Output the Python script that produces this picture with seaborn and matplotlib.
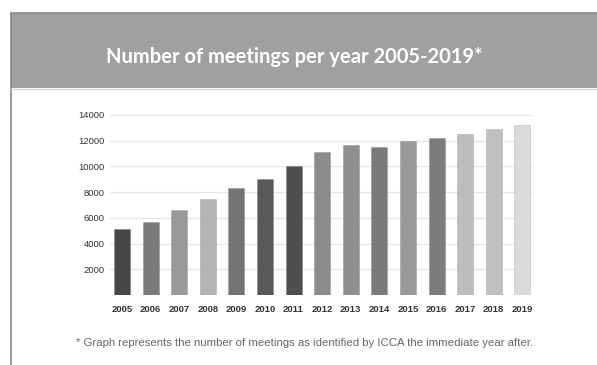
import pandas as pd
import matplotlib.pyplot as plt
import seaborn as sns
from matplotlib.patches import Rectangle
from matplotlib.lines import Line2D

# values
years = ['2005', '2006', '2007', '2008', '2009', '2010', '2011', '2012',
         '2013', '2014', '2015', '2016', '2017', '2018', '2019']
meetings = [5150, 5700, 6600, 7450, 8300, 9050, 10000, 11150,
            11700, 11500, 12000, 12200, 12550, 12950, 13250]
bar_colors = ['#474747', '#7a7a7a', '#999999', '#b4b4b4', '#737373', '#595959',
              '#4f4f4f', '#8c8c8c', '#8f8f8f', '#7a7a7a', '#9a9a9a', '#7c7c7c',
              '#bdbdbd', '#bfbfbf', '#dadada']
y_ticks = [2000, 4000, 6000, 8000, 10000, 12000, 14000]

title = 'Number of meetings per year 2005-2019*'
note = '* Graph represents the number of meetings as identified by ICCA the immediate year after.'

df = pd.DataFrame({'year': years, 'meetings': meetings})

sns.set_style('white')
plt.rcParams['font.family'] = ['Liberation Sans', 'DejaVu Sans']

W, H = 597, 365
fig = plt.figure(figsize=(W / 100, H / 100), dpi=100)
fig.patch.set_facecolor('white')

# grey header band and frame lines
fig.patches.append(Rectangle((11 / W, 1 - 88 / H), 1 - 11 / W, 75 / H,
                             transform=fig.transFigure, facecolor='#a0a0a0',
                             edgecolor='none', zorder=0))
fig.lines.append(Line2D([11 / W, 11 / W], [0, 1 - 13 / H], transform=fig.transFigure,
                        color='#8a8a8a', lw=1.2))
fig.lines.append(Line2D([11 / W, 1], [1 - 13 / H, 1 - 13 / H], transform=fig.transFigure,
                        color='#8a8a8a', lw=1.2))
fig.lines.append(Line2D([11 / W, 1], [1 - 89 / H, 1 - 89 / H], transform=fig.transFigure,
                        color='#d8d8d8', lw=1))

fig.text(294 / W, 1 - 57 / H, title, ha='center', va='center', color='white',
         fontsize=14.5, fontweight='bold', family=['Lato', 'DejaVu Sans'])

# plot area
ax_left, ax_right = 110, 532
ax_bottom, y_top = 295, 115
ymax = 14250
px_per_unit = (ax_bottom - y_top) / 14000
ax_h = ymax * px_per_unit
ax = fig.add_axes([ax_left / W, (H - ax_bottom) / H, (ax_right - ax_left) / W, ax_h / H])

sns.barplot(data=df, x='year', y='meetings', hue='year', palette=bar_colors,
            legend=False, width=0.56, ax=ax, zorder=3)
for p in ax.patches:
    p.set_edgecolor('#00000022')
    p.set_linewidth(0.6)

ax.set_ylim(0, ymax)
ax.set_xlim(-0.42, 14.34)
ax.set_yticks(y_ticks)
ax.set_yticklabels([str(v) for v in y_ticks])
ax.yaxis.grid(True, color='#e6e6e6', lw=1, zorder=0)
ax.set_axisbelow(True)
ax.set_xlabel('')
ax.set_ylabel('')
for s in ax.spines.values():
    s.set_visible(False)
ax.tick_params(axis='y', length=0, pad=4, labelsize=6.8, labelcolor='#333333')
ax.tick_params(axis='x', length=0, pad=7, labelsize=6.8, labelcolor='#333333')
for lab in ax.get_xticklabels():
    lab.set_fontweight('bold')

fig.text(305 / W, 1 - 343 / H, note, ha='center', va='center', color='#666666',
         fontsize=8.2)

fig.savefig('out.png', dpi=100)
